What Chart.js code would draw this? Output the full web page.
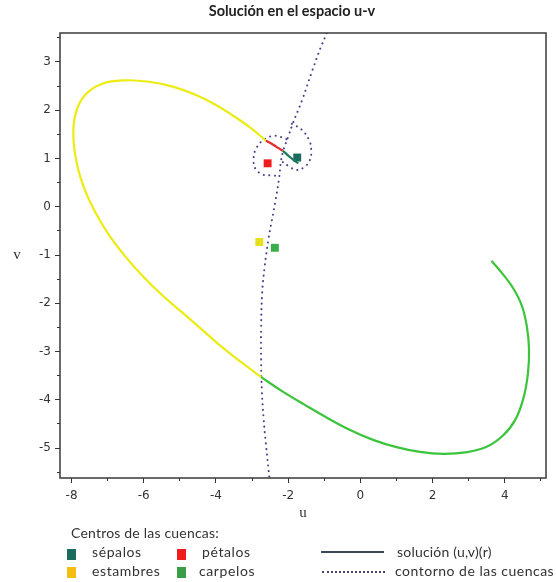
<!DOCTYPE html>
<html>
<head>
<meta charset="utf-8">
<script src="https://cdn.jsdelivr.net/npm/chart.js@4.4.1/dist/chart.umd.min.js"></script>
<style>
  html, body { margin: 0; padding: 0; background: #fff; }
  #wrap { position: relative; width: 556px; height: 582px; font-family: Lato, "Open Sans", sans-serif; color: #333; }
  #chart { position: absolute; left: 0; top: 0; }
  .lg { position: absolute; font-size: 14px; line-height: 16px; white-space: nowrap; letter-spacing: 0.6px; }
  .sq { position: absolute; width: 9px; height: 11px; }
  .ln { position: absolute; width: 63px; height: 0; }
</style>
</head>
<body>
<div id="wrap">
  <canvas id="chart" width="556" height="582"></canvas>
  <div class="lg" style="left:71px; top:525px; letter-spacing:0.2px;">Centros de las cuencas:</div>
  <div class="sq" style="left:67px; top:549px; background:#1b6b5e;"></div>
  <div class="lg" style="left:92px; top:544px;">sépalos</div>
  <div class="sq" style="left:177px; top:549px; background:#ee1c1c;"></div>
  <div class="lg" style="left:202px; top:544px;">pétalos</div>
  <div class="sq" style="left:67px; top:567px; background:#f5bd12;"></div>
  <div class="lg" style="left:92px; top:563px;">estambres</div>
  <div class="sq" style="left:177px; top:567px; background:#3a9e44;"></div>
  <div class="lg" style="left:199px; top:563px;">carpelos</div>
  <div class="ln" style="left:321px; top:551px; border-top:2px solid #3c4656;"></div>
  <div class="lg" style="left:397px; top:544px; letter-spacing:0.2px;">solución (u,v)(r)</div>
  <div class="ln" style="left:322px; top:571px; border-top:2px dotted #4a4470;"></div>
  <div class="lg" style="left:395px; top:563px; letter-spacing:0.5px;">contorno de las cuencas</div>
</div>
<script>
// trayectoria (u,v)(r), por tramos segun la cuenca en la que esta
const sepalosU = [-1.72, -1.82, -1.92, -2.03, -2.15];
const sepalosV = [0.90, 0.95, 1.01, 1.08, 1.16];
const petalosU = [-2.15, -2.28, -2.40, -2.52, -2.62];
const petalosV = [1.16, 1.22, 1.28, 1.33, 1.37];
const estambresU = [-2.62, -3.05, -3.55, -4.05, -4.6, -5.2, -5.85, -6.5, -7.15, -7.62, -7.88, -7.95, -7.84, -7.62, -7.3, -6.92, -6.48, -6.0, -5.48, -4.92, -4.38, -3.85, -3.3, -2.75];
const estambresV = [1.37, 1.64, 1.9, 2.13, 2.33, 2.49, 2.59, 2.62, 2.55, 2.32, 1.95, 1.45, 0.85, 0.33, -0.17, -0.63, -1.06, -1.46, -1.84, -2.2, -2.55, -2.9, -3.22, -3.53];
const carpelosU = [-2.75, -2.15, -1.55, -0.95, -0.3, 0.35, 1.0, 1.65, 2.3, 2.9, 3.48, 3.95, 4.3, 4.52, 4.64, 4.67, 4.61, 4.47, 4.24, 3.95, 3.63];
const carpelosV = [-3.53, -3.83, -4.1, -4.36, -4.62, -4.83, -4.98, -5.08, -5.12, -5.09, -4.98, -4.74, -4.4, -3.95, -3.45, -2.95, -2.48, -2.05, -1.7, -1.4, -1.12];

// contornos de las cuencas
const bordeU = [-0.93, -1.1, -1.32, -1.62, -1.86, -2.0, -2.12, -2.2, -2.25, -2.35, -2.45, -2.55, -2.65, -2.72, -2.75, -2.75, -2.73, -2.68, -2.62, -2.52];
const bordeV = [3.6, 3.3, 2.85, 2.2, 1.75, 1.45, 1.2, 0.95, 0.6, 0.14, -0.27, -0.68, -1.23, -1.77, -2.5, -3.2, -3.8, -4.4, -4.9, -5.62];
const lazoSepU = [-1.9, -1.63, -1.42, -1.36, -1.40, -1.54, -1.77, -1.96, -2.2];
const lazoSepV = [1.72, 1.6, 1.38, 1.16, 0.97, 0.83, 0.76, 0.83, 0.95];
const lazoPetU = [-2.05, -2.35, -2.65, -2.88, -2.96, -2.9, -2.68, -2.42, -2.25];
const lazoPetV = [1.4, 1.47, 1.4, 1.22, 0.98, 0.78, 0.66, 0.65, 0.62];

// centros de las cuencas
const centrosNombre = ['sépalos', 'pétalos', 'estambres', 'carpelos'];
const centrosU = [-1.75, -2.57, -2.8, -2.37];
const centrosV = [1.02, 0.90, -0.73, -0.85];
const centrosColor = ['#1b6b5e', '#ee1c1c', '#e6df1e', '#38ad48'];

const xMin = -8.32, xMax = 5.14, yMin = -5.62, yMax = 3.6;

function pts(us, vs) { return us.map((u, i) => ({ x: u, y: vs[i] })); }

function tramo(us, vs, color) {
    return { data: pts(us, vs), showLine: true, borderColor: color, borderWidth: 2.2,
             pointRadius: 0, tension: 0.4, fill: false };
}
function borde(us, vs) {
    return { data: pts(us, vs), showLine: true, borderColor: '#4a3f88', borderWidth: 2,
             borderDash: [0.1, 5.5], borderCapStyle: 'round', pointRadius: 0, tension: 0.4, fill: false };
}

const datasets = [
    tramo(estambresU, estambresV, '#ecec12'),
    tramo(carpelosU, carpelosV, '#3cc43c'),
    tramo(petalosU, petalosV, '#e8282a'),
    tramo(sepalosU, sepalosV, '#1c7a5c'),
    borde(bordeU, bordeV),
    borde(lazoSepU, lazoSepV),
    borde(lazoPetU, lazoPetV)
];
centrosNombre.forEach((n, i) => {
    datasets.push({ label: n, data: [{ x: centrosU[i], y: centrosV[i] }], pointStyle: 'rect',
                    pointRadius: 5.6, pointBorderWidth: 0, backgroundColor: centrosColor[i],
                    borderColor: centrosColor[i], showLine: false });
});

const marco = {
    id: 'marco',
    afterDraw(chart) {
        const { ctx, chartArea: a } = chart;
        ctx.save();
        ctx.strokeStyle = '#3a3a3a';
        ctx.lineWidth = 1.5;
        ctx.strokeRect(a.left, a.top, a.right - a.left, a.bottom - a.top);
        ctx.fillStyle = '#333';
        ctx.font = '15px "Liberation Serif"';
        ctx.textAlign = 'center';
        ctx.textBaseline = 'middle';
        ctx.fillText('v', 17, (a.top + a.bottom) / 2);
        ctx.restore();
    }
};

const tickFont = { family: '"DejaVu Sans"', size: 12 };

new Chart(document.getElementById('chart'), {
    type: 'scatter',
    data: { datasets },
    plugins: [marco],
    options: {
        responsive: false,
        animation: false,
        events: [],
        layout: { padding: { left: 38, right: 10, top: 0, bottom: 60.6 } },
        plugins: {
            legend: { display: false },
            tooltip: { enabled: false },
            title: {
                display: true, text: 'Solución en el espacio u-v', color: '#222',
                font: { family: 'Lato', size: 14.5, weight: 'bold', lineHeight: 1.2 },
                padding: { top: 3, bottom: 12.6 }
            }
        },
        scales: {
            x: {
                type: 'linear', position: 'bottom', min: xMin, max: xMax, weight: 0,
                afterFit: s => { s.height = 43.4; },
                ticks: { stepSize: 2, includeBounds: false, autoSkip: false, maxRotation: 0,
                         padding: 6, color: '#333', font: tickFont },
                grid: { drawOnChartArea: false, tickLength: 5, tickColor: '#333' },
                border: { display: false },
                title: { display: true, text: 'u', color: '#333', padding: 0,
                         font: { family: '"Liberation Serif"', size: 15, lineHeight: 1.12 } }
            },
            x2: {
                type: 'linear', position: 'bottom', min: xMin, max: xMax, weight: -1,
                afterFit: s => { s.height = 0; },
                ticks: { stepSize: 1, includeBounds: false, autoSkip: false, display: false },
                grid: { drawOnChartArea: false, tickLength: 3, tickColor: '#333' },
                border: { display: false }
            },
            y: {
                type: 'linear', position: 'left', min: yMin, max: yMax, weight: 0,
                afterFit: s => { s.width = 22; },
                ticks: { stepSize: 1, includeBounds: false, autoSkip: false, padding: 4,
                         color: '#333', font: tickFont },
                grid: { drawOnChartArea: false, tickLength: 5, tickColor: '#333' },
                border: { display: false }
            },
            y2: {
                type: 'linear', position: 'left', min: yMin, max: yMax, weight: -1,
                afterFit: s => { s.width = 0; },
                ticks: { stepSize: 0.5, includeBounds: false, autoSkip: false, display: false },
                grid: { drawOnChartArea: false, tickLength: 3, tickColor: '#333' },
                border: { display: false }
            }
        }
    }
});
</script>
</body>
</html>
